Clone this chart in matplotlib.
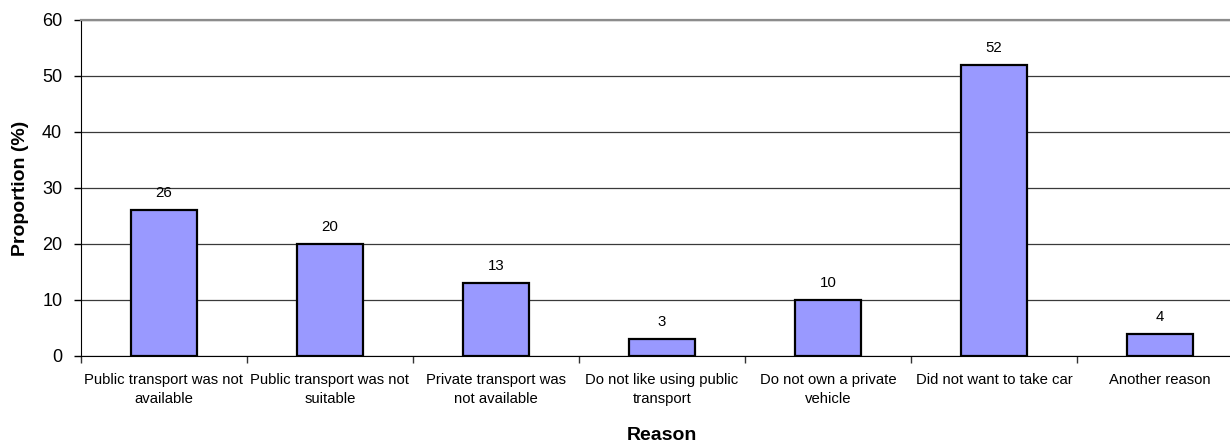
import matplotlib.pyplot as plt
import numpy as np

plt.rcParams['font.family'] = ['Liberation Sans', 'DejaVu Sans']

reasons = [
    "Public transport was not\navailable",
    "Public transport was not\nsuitable",
    "Private transport was\nnot available",
    "Do not like using public\ntransport",
    "Do not own a private\nvehicle",
    "Did not want to take car",
    "Another reason",
]
proportion = [26, 20, 13, 3, 10, 52, 4]

W, H = 1230, 443
fig = plt.figure(figsize=(W / 100, H / 100), dpi=100)
# plot area runs a little past the right edge of the image
ax = fig.add_axes([81 / W, 1 - 356 / H, (1243 - 81) / W, (356 - 20) / H])

x = np.arange(len(reasons))
bars = ax.bar(x, proportion, width=0.4, color='#9999FF', edgecolor='black',
              linewidth=1.6, zorder=3)

for xi, v in zip(x, proportion):
    ax.text(xi, v + 1.8, f"{v}", ha='center', va='bottom', fontsize=10.8)

ax.set_xlim(-0.5, len(reasons) - 0.5)
ax.set_ylim(0, 60)
ax.set_yticks(np.arange(0, 61, 10))
ax.tick_params(axis='y', labelsize=13, length=5, width=1, direction='out', pad=8.5)
ax.yaxis.grid(True, color='#3a3a3a', linewidth=0.9, zorder=0)

ax.set_xticks(x)
ax.set_xticklabels(reasons, fontsize=10.7, linespacing=1.5)
ax.tick_params(axis='x', which='major', length=0, pad=12)
ax.set_xticks(np.arange(-0.5, len(reasons), 1), minor=True)
ax.tick_params(axis='x', which='minor', length=5, width=1, color='#333333')

ax.spines['right'].set_visible(False)
ax.spines['top'].set_color('#8c8c8c')
ax.spines['top'].set_linewidth(1.6)
ax.spines['left'].set_color('black')
ax.spines['bottom'].set_color('black')

ax.set_ylabel("Proportion (%)", fontsize=14, fontweight='bold', labelpad=9)
fig.text(662 / W, 1 - 436 / H, "Reason", ha='center', va='center',
         fontsize=14, fontweight='bold')

fig.savefig('out.png', dpi=100)
